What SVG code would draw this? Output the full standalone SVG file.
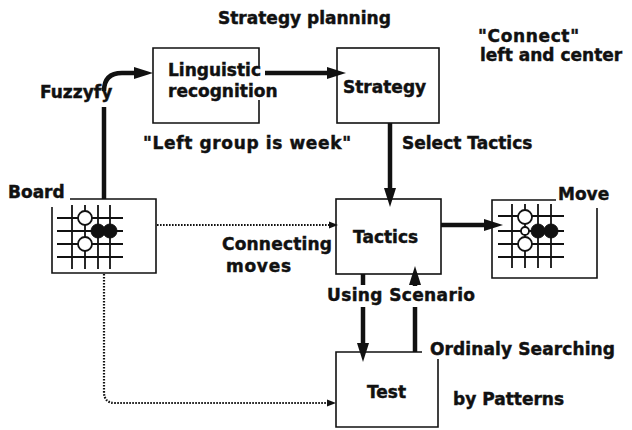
<svg xmlns="http://www.w3.org/2000/svg" width="632" height="430" viewBox="0 0 632 430">
<style>
  text { font-family: "DejaVu Sans", "Liberation Sans", sans-serif; font-weight: bold; font-size: 17px; fill: #111; stroke: #111; stroke-width: 0.45; }
  .box { fill: none; stroke: #111; stroke-width: 1.6; }
  .thick { fill: none; stroke: #111; stroke-width: 4.5; }
  .dot { fill: none; stroke: #111; stroke-width: 2.2; stroke-dasharray: 1.6 1.4; }
  .grid { stroke: #111; stroke-width: 1.8; }
  .w { fill: #fff; stroke: #111; stroke-width: 1.8; }
  .b { fill: #111; stroke: #111; stroke-width: 1; }
</style>
<defs>
  <marker id="ah" markerUnits="userSpaceOnUse" markerWidth="20" markerHeight="14" refX="0" refY="0" orient="auto" overflow="visible">
    <path d="M-1,-6 L18,0 L-1,6 z" fill="#111"/>
  </marker>
  <marker id="ahs" markerUnits="userSpaceOnUse" markerWidth="10" markerHeight="8" refX="0" refY="0" orient="auto" overflow="visible">
    <path d="M-1,-3.5 L8,0 L-1,3.5 z" fill="#111"/>
  </marker>
</defs>
<rect width="632" height="430" fill="#fff"/>

<text x="218" y="24">Strategy planning</text>
<text x="478" y="42" textLength="101" lengthAdjust="spacing">"Connect"</text>
<text x="480" y="61" font-size="16.3">left and center</text>
<text x="143" y="149" textLength="208" lengthAdjust="spacing">"Left group is week"</text>
<text x="402" y="149" font-size="17.5">Select Tactics</text>

<g id="connectors">
  <path class="thick" d="M104,199 L104,107"/>
  <path class="thick" d="M104,91 Q104,73 122,73 L135,73" marker-end="url(#ah)"/>
  <path class="thick" d="M265,73 L328,73" marker-end="url(#ah)"/>
  <path class="thick" d="M390,123 L390,189" marker-end="url(#ah)"/>
  <path class="thick" d="M441,225 L485,225" marker-end="url(#ah)"/>
  <path class="thick" d="M363,274 L363,285"/>
  <path class="thick" d="M363,307 L363,344" marker-end="url(#ah)"/>
  <path class="thick" d="M415,352 L415,307"/>
  <path class="thick" d="M415,286 L415,284" marker-end="url(#ah)"/>
  <path class="dot" d="M157,225 L330,225" marker-end="url(#ahs)"/>
  <path class="dot" d="M104,274 L104,392 Q104,403 115,403 L328,403" marker-end="url(#ahs)"/>
  <text x="40" y="98">Fuzzyfy</text>
  <text x="222" y="250" textLength="110" lengthAdjust="spacing">Connecting</text>
  <text x="226" y="272" textLength="65" lengthAdjust="spacing">moves</text>
  <text x="327" y="301" textLength="148" lengthAdjust="spacing">Using Scenario</text>
  <text x="430" y="355" textLength="185" lengthAdjust="spacing">Ordinaly Searching</text>
  <text x="453" y="405">by Patterns</text>
</g>

<g id="linguistic">
  <path class="box" d="M259,67 L259,48 L153,48 L153,123 L259,123 L259,100"/>
  <text x="168" y="76">Linguistic</text>
  <text x="168" y="97">recognition</text>
</g>

<g id="strategy">
  <rect class="box" x="337" y="48" width="102" height="75"/>
  <text x="343" y="93">Strategy</text>
</g>

<g id="tactics">
  <rect class="box" x="336" y="199" width="105" height="75"/>
  <text x="353" y="243" font-size="18">Tactics</text>
</g>

<g id="test">
  <path class="box" d="M422,352 L336,352 L336,427 L438,427 L438,359"/>
  <text x="367" y="398">Test</text>
</g>

<g id="board">
  <path class="box" d="M70,199 L156,199 L156,273 L52,273 L52,207"/>
  <text x="8" y="198" font-size="18">Board</text>
  <g class="grid">
    <line x1="57" y1="218" x2="123" y2="218"/>
    <line x1="57" y1="231" x2="123" y2="231"/>
    <line x1="57" y1="244" x2="123" y2="244"/>
    <line x1="57" y1="257" x2="123" y2="257"/>
    <line x1="72" y1="205" x2="72" y2="269"/>
    <line x1="85" y1="205" x2="85" y2="269"/>
    <line x1="98" y1="205" x2="98" y2="269"/>
    <line x1="110" y1="205" x2="110" y2="269"/>
  </g>
  <circle class="w" cx="85" cy="218" r="7"/>
  <circle class="w" cx="85" cy="244" r="7"/>
  <circle class="b" cx="98" cy="231" r="7"/>
  <circle class="b" cx="110" cy="231" r="7"/>
</g>

<g id="move">
  <path class="box" d="M556,200 L492,200 L492,278 L597,278 L597,208"/>
  <text x="558" y="200">Move</text>
  <g class="grid">
    <line x1="498" y1="216" x2="564" y2="216"/>
    <line x1="498" y1="231" x2="564" y2="231"/>
    <line x1="498" y1="244" x2="564" y2="244"/>
    <line x1="498" y1="257" x2="564" y2="257"/>
    <line x1="512" y1="204" x2="512" y2="268"/>
    <line x1="525" y1="204" x2="525" y2="268"/>
    <line x1="538" y1="204" x2="538" y2="268"/>
    <line x1="551" y1="204" x2="551" y2="268"/>
  </g>
  <circle class="w" cx="525" cy="217" r="7"/>
  <circle class="w" cx="525" cy="244" r="7"/>
  <circle class="b" cx="538" cy="231" r="7"/>
  <circle class="b" cx="551" cy="231" r="7"/>
  <circle class="w" cx="525" cy="231" r="4"/>
</g>
</svg>
